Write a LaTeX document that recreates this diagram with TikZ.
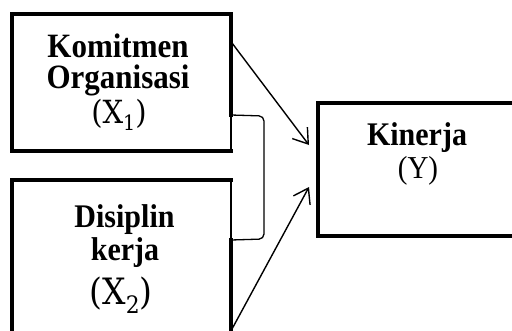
\documentclass[tikz,border=0pt]{standalone}
\usepackage{fontspec}
\setmainfont{Liberation Serif}
\newfontfamily\xfont{DejaVu Serif}
\usetikzlibrary{arrows.meta}
\newcommand{\vs}[1]{\scalebox{1}[1.1]{#1}}
\newcommand{\xlab}[1]{\xfont(X\raisebox{-0.25em}{\fontsize{0.66em}{0.7em}\selectfont #1})}
\begin{document}
\begin{tikzpicture}[x=1pt,y=-1pt,
  boxarea/.style={minimum width=219pt,inner sep=0pt,outer sep=0pt,anchor=north west},
  thickline/.style={line width=4.5pt,line join=miter,line cap=rect},
  thinline/.style={line width=1.3pt},
  arrowline/.style={line width=1.4pt,-{Straight Barb[length=14pt,width=19pt,line width=1.4pt]}},
  boldtxt/.style={anchor=base,inner sep=0pt,font=\fontsize{31}{31}\selectfont\bfseries},
  regtxt/.style={anchor=base,inner sep=0pt,font=\fontsize{29}{29}\selectfont}]
\useasboundingbox (0,0) rectangle (512,330);
\clip (0,0) rectangle (512,330);
% boxes
\node[boxarea,minimum height=137pt] (b1) at (12,14) {};
\node[boxarea,minimum height=200pt] (b2) at (12,180) {};
\node[boxarea,minimum width=260pt,minimum height=133pt] (b3) at (318,103) {};
\coordinate (b1j) at (231,115);
\coordinate (b2j) at (231,240);
\draw[thickline] (b1j) -- (b1.north east) -- (b1.north west) -- (b1.south west) -- (b1.south east);
\draw[thinline] (b1j) -- (b1.south east);
\draw[thickline] (b2j) -- (b2.south east) -- (b2.south west) -- (b2.north west) -- (b2.north east);
\draw[thinline] (b2.north east) -- (b2j);
\draw[thickline] (b3.north west) rectangle (b3.south east);
% bracket
\coordinate (br1) at (264,116);
\coordinate (br2) at (264,239);
\draw[thinline,rounded corners=5pt] (b1j) -- (br1) -- (br2) -- (b2j);
% arrows
\coordinate (a1s) at (232,43);
\coordinate (a1e) at (309,145);
\coordinate (a2s) at (232,329);
\coordinate (a2e) at (309,187);
\draw[arrowline] (a1s) -- (a1e);
\draw[arrowline] (a2s) -- (a2e);
% texts
\node[boldtxt] (t11) at (118,57) {\vs{Komitmen}};
\node[boldtxt] (t12) at (118,88) {\vs{Organisasi}};
\node[anchor=base,inner sep=0pt,font=\fontsize{29}{29}\selectfont] (t13) at (119,123) {\vs{\xlab{1}}};
\node[boldtxt,font=\fontsize{30}{30}\selectfont\bfseries] (t21) at (124.5,227) {\vs{Disiplin}};
\node[boldtxt,font=\fontsize{30}{30}\selectfont\bfseries] (t22) at (125,260) {\vs{kerja}};
\node[anchor=base,inner sep=0pt,font=\fontsize{33}{33}\selectfont] (t23) at (121,304) {\vs{\xlab{2}}};
\node[boldtxt,font=\fontsize{30}{30}\selectfont\bfseries] (t31) at (417,145) {\vs{Kinerja}};
\node[regtxt] (t32) at (418,178) {\vs{(Y)}};
\end{tikzpicture}
\end{document}
